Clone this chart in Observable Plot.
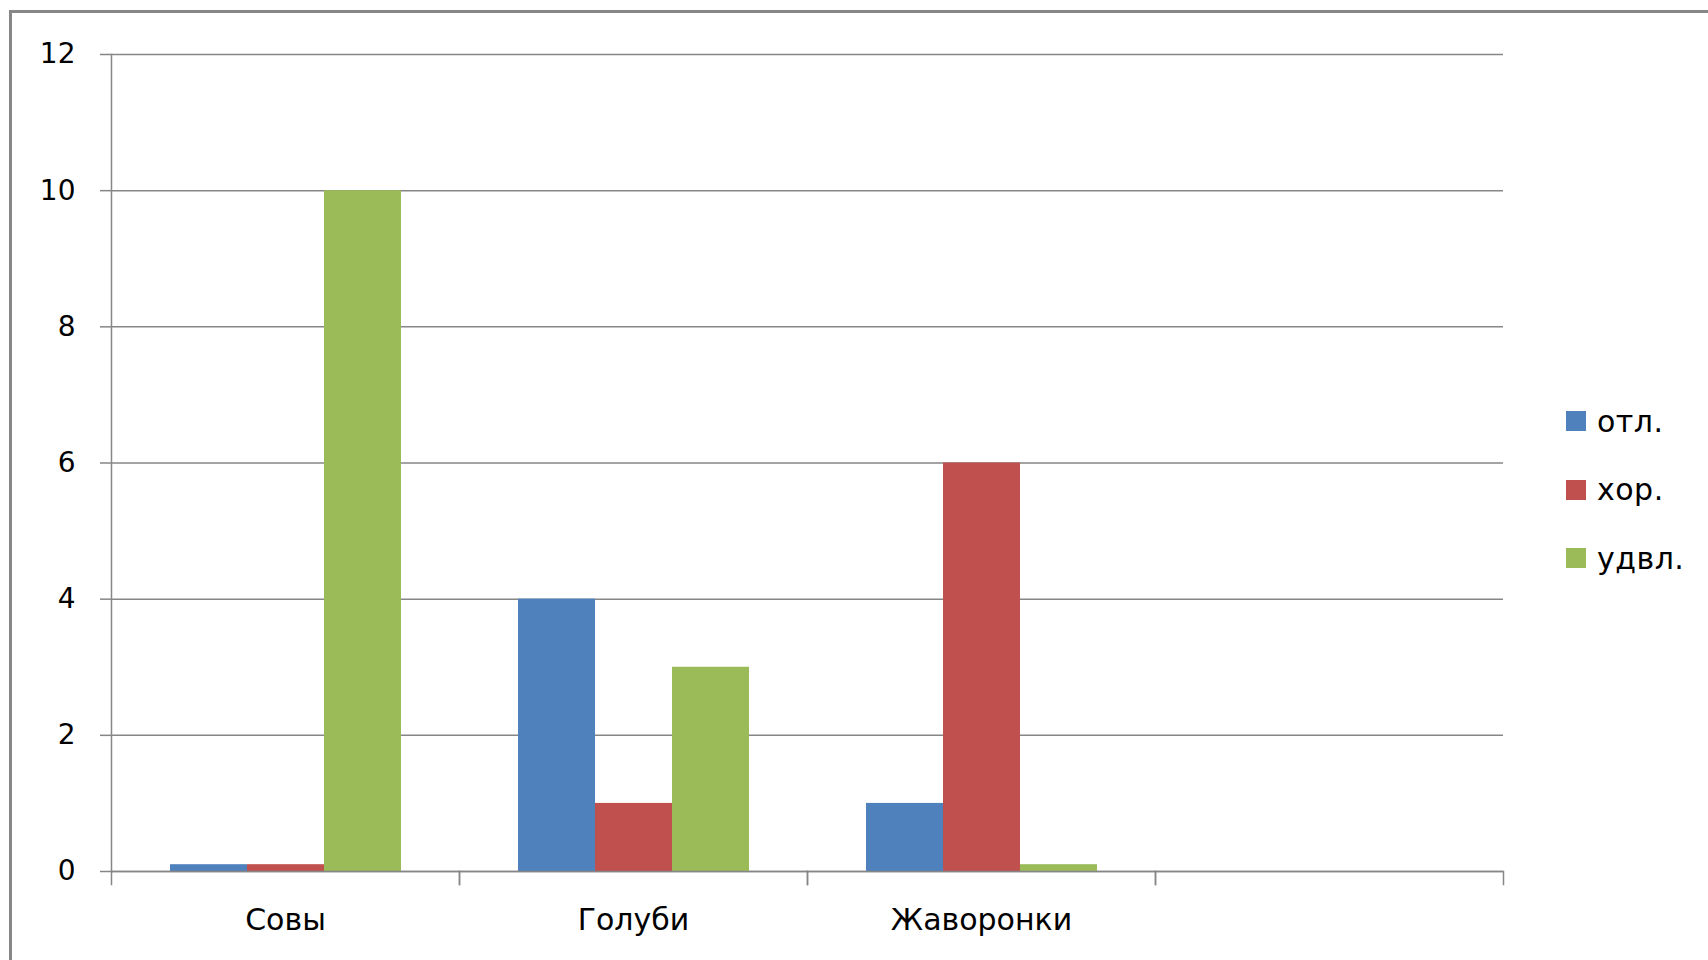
<!DOCTYPE html>
<html><head><meta charset="utf-8">
<script src="https://cdn.jsdelivr.net/npm/d3@7"></script>
<script src="https://cdn.jsdelivr.net/npm/@observablehq/plot@0.6"></script>
<style>
body{margin:0;background:#fff;font-family:"DejaVu Sans",sans-serif;}
#wrap{position:relative;width:1708px;height:960px;overflow:hidden;background:#fff;}
#border{position:absolute;left:9px;top:10px;width:1800px;height:1100px;border:3px solid #878787;}
#chart{position:absolute;left:0;top:0;}
.item{position:absolute;left:1566px;display:flex;align-items:center;height:34px;font-size:30px;color:#000;white-space:nowrap;letter-spacing:0.5px;}
.sw{width:20px;height:20px;margin-right:11px;flex:none;}
</style></head>
<body><div id="wrap"><div id="border"></div><div id="chart"></div><div id="legend"></div></div>
<script>
const categories = ["Совы", "Голуби", "Жаворонки", ""];
const series = ["отл.", "хор.", "удвл."];
const otl = [0.1, 4, 1];
const hor = [0.1, 1, 6];
const udvl = [10, 3, 0.1];
const colors = ["#4F81BD", "#C0504D", "#9BBB59"];
const yTicks = [0, 2, 4, 6, 8, 10, 12];

const seriesValues = [otl, hor, udvl];
const rows = [];
seriesValues.forEach((vals, j) => vals.forEach((v, i) => rows.push({cat: categories[i], series: series[j], value: v})));

const W = 1708, H = 960, mL = 111, mR = 205, mT = 54, mB = 89;
const plotH = H - mT - mB;
const axisGrey = "#868686";

const chart = Plot.plot({
  width: W, height: H,
  marginLeft: mL, marginRight: mR, marginTop: mT, marginBottom: mB,
  style: {fontFamily: "'DejaVu Sans', sans-serif", fontSize: "30px", color: "#000", background: "transparent", overflow: "visible"},
  fx: {domain: categories, padding: 0, axis: null},
  x: {domain: series, paddingInner: 0, paddingOuter: 0.75, axis: null},
  y: {domain: [0, 12], axis: null, label: null},
  color: {domain: series, range: colors},
  marks: [
    Plot.gridY(yTicks, {stroke: axisGrey, strokeOpacity: 1, strokeWidth: 1.5}),
    Plot.axisY(yTicks, {tickSize: 11, tickPadding: 25, tickFormat: d => String(d), stroke: axisGrey, strokeWidth: 1.5, fill: "#000", fontSize: 28, label: null}),
    Plot.barY(rows, {fx: "cat", x: "series", y: "value", fill: "series"}),
    Plot.ruleY([0], {stroke: axisGrey, strokeWidth: 1.5}),
    Plot.frame({anchor: "left", facetAnchor: "left", stroke: axisGrey, strokeWidth: 1.5}),
    Plot.frame({anchor: "left", insetTop: plotH, insetBottom: -13, stroke: axisGrey, strokeWidth: 1.5}),
    Plot.frame({anchor: "right", insetTop: plotH, insetBottom: -13, stroke: axisGrey, strokeWidth: 1.5}),
    Plot.text(categories, {fx: d => d, text: d => d, frameAnchor: "bottom", dy: 58, fontSize: 30, fill: "#000", letterSpacing: "1.3px"})
  ]
});
document.getElementById("chart").appendChild(chart);

const legend = document.getElementById("legend");
series.forEach((s, j) => {
  const it = document.createElement("div");
  it.className = "item";
  it.style.top = (404 + j * 68.5) + "px";
  const sw = document.createElement("div");
  sw.className = "sw";
  sw.style.background = colors[j];
  const t = document.createElement("span");
  t.textContent = s;
  it.appendChild(sw); it.appendChild(t);
  legend.appendChild(it);
});
</script>
</body></html>
